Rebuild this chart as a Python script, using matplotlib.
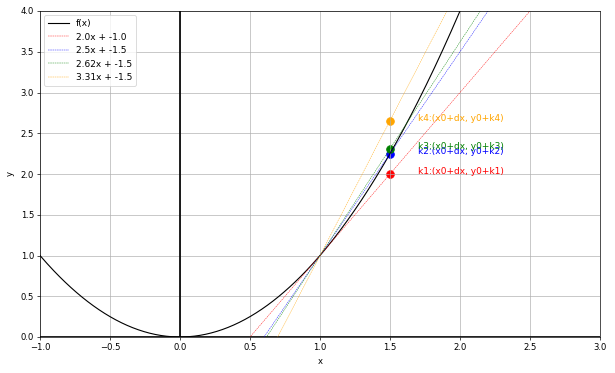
import numpy as np
import matplotlib
matplotlib.use("Agg")
import matplotlib.pyplot as plt

plt.rcParams['font.family'] = ['DejaVu Sans']

x0, y0, dx = 1.0, 1.0, 0.5
slopes = [2.0, 2.5, 2.62, 3.31]
labels = ["2.0x + -1.0", "2.5x + -1.5", "2.62x + -1.5", "3.31x + -1.5"]
colors = ["red", "blue", "green", "orange"]
point_labels = ["k1:(x0+dx, y0+k1)", "k2:(x0+dx, y0+k2)", "k3:(x0+dx, y0+k3)", "k4:(x0+dx, y0+k4)"]

fig = plt.figure(figsize=(10, 373/61.5), dpi=61.5)
ax = fig.add_axes([40/615, 1-337/373, 560/615, 326/373])

xs = np.linspace(-1, 3, 400)
ax.plot(xs, xs**2, color='black', lw=1.3, label='f(x)')
ax.axvline(0, color='black', lw=2)
ax.axhline(0, color='black', lw=2)

for k, lab, c in zip(slopes, labels, colors):
    ax.plot(xs, k*(xs - x0) + y0, '--', color=c, lw=0.5, label=lab)

for k, c, pl in zip(slopes, colors, point_labels):
    yy = y0 + k*dx
    ax.scatter([x0+dx], [yy], color=c, s=80)
    ax.text(x0+dx+0.2, yy, pl, color=c, fontsize=10.5)

ax.set_xlim(-1, 3)
ax.set_ylim(0, 4)
ax.set_xlabel('x', labelpad=6)
ax.set_ylabel('y', labelpad=7)
ax.grid(True)
ax.legend(loc='upper left', fontsize=10.5, handlelength=2.3)
fig.savefig('out.png', dpi=61.5)
